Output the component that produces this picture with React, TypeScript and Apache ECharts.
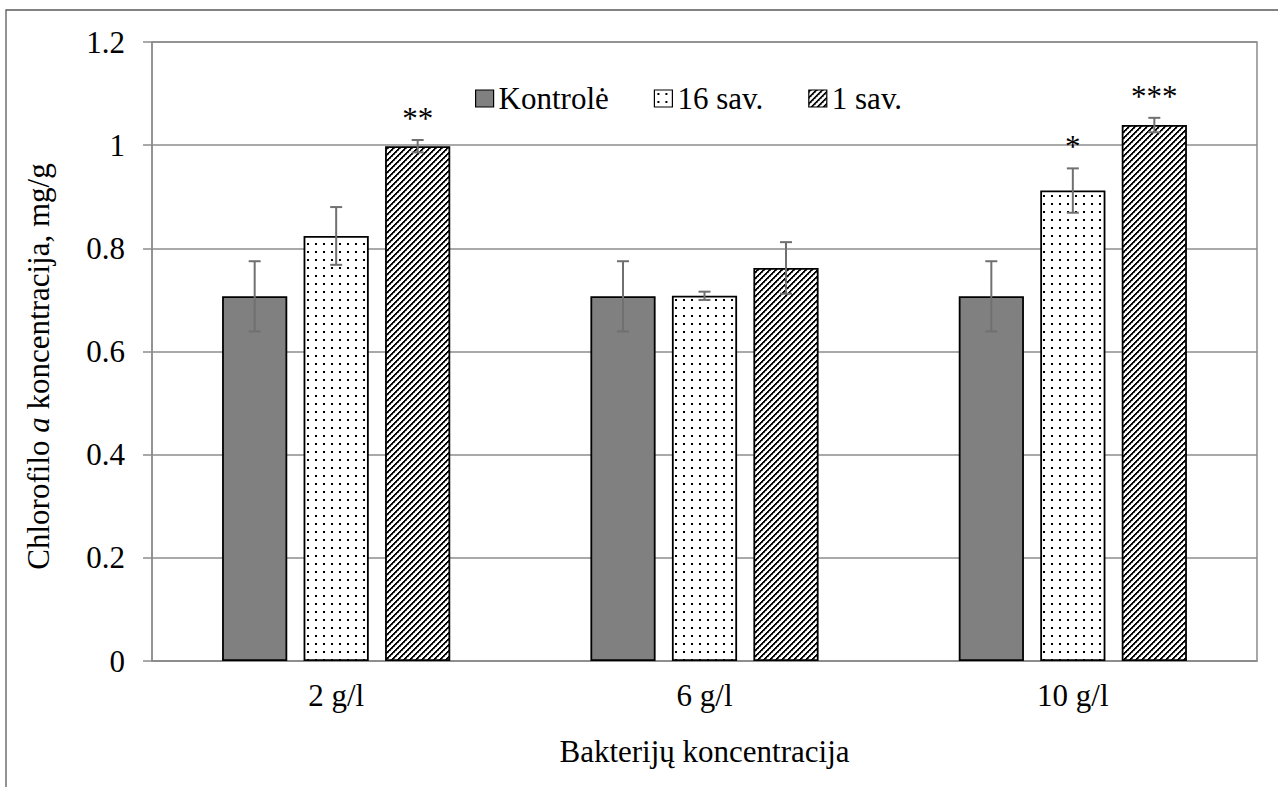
import React, { useEffect, useRef } from "react";
import * as echarts from "echarts";

const categories = ["2 g/l", "6 g/l", "10 g/l"];
const seriesNames = ["Kontrolė", "16 sav.", "1 sav."];
const kontrole = [0.707, 0.707, 0.707];
const kontroleErr = [0.068, 0.068, 0.068];
const sav16 = [0.824, 0.708, 0.912];
const sav16Err = [0.056, 0.008, 0.043];
const sav1 = [0.998, 0.762, 1.039];
const sav1Err = [0.012, 0.05, 0.014];
const kontroleStars = ["", "", ""];
const sav16Stars = ["", "", "*"];
const sav1Stars = ["**", "", "***"];
const yTicks = [0, 0.2, 0.4, 0.6, 0.8, 1, 1.2];

const FONT = "Liberation Serif";
const FS = 31;
const BAR_W = 0.177;
const GAP = 0.25;

function makeDots(): HTMLCanvasElement {
  const c = document.createElement("canvas");
  c.width = 8;
  c.height = 8;
  const ctx = c.getContext("2d")!;
  ctx.fillStyle = "#fff";
  ctx.fillRect(0, 0, 8, 8);
  ctx.fillStyle = "#000";
  ctx.fillRect(3, 3, 2, 2);
  return c;
}

function makeHatch(): HTMLCanvasElement {
  const n = 6;
  const c = document.createElement("canvas");
  c.width = n;
  c.height = n;
  const ctx = c.getContext("2d")!;
  ctx.fillStyle = "#fff";
  ctx.fillRect(0, 0, n, n);
  for (let x = 0; x < n; x++) {
    for (let y = 0; y < n; y++) {
      const m = (x + y) % n;
      if (m === 0 || m === 1) {
        ctx.fillStyle = "#000";
        ctx.fillRect(x, y, 1, 1);
      } else if (m === 2) {
        ctx.fillStyle = (x % 2 === 0) ? "#555" : "#bbb";
        ctx.fillRect(x, y, 1, 1);
      }
    }
  }
  return c;
}

export default function App() {
  const ref = useRef<HTMLDivElement>(null);
  useEffect(() => {
    if (!ref.current) return;
    const chart = echarts.init(ref.current, undefined, { renderer: "svg" });
    const dots = { image: makeDots(), repeat: "repeat" };
    const hatch = { image: makeHatch(), repeat: "repeat" };

    const values = [kontrole, sav16, sav1];
    const errs = [kontroleErr, sav16Err, sav1Err];
    const stars = [kontroleStars, sav16Stars, sav1Stars];
    const errData: number[][] = [];
    const errStars: string[] = [];
    for (let s = 0; s < 3; s++) {
      for (let i = 0; i < categories.length; i++) {
        errData.push([i, s, values[s][i], errs[s][i]]);
        errStars.push(stars[s][i]);
      }
    }

    const barStyle = (color: any) => ({
      color,
      borderColor: "#000",
      borderWidth: 1.8,
    });

    const option: any = {
      animation: false,
      textStyle: { fontFamily: FONT, color: "#000" },
      graphic: [
        {
          type: "rect",
          shape: { x: 6, y: 10, width: 1300, height: 820 },
          style: { fill: "none", stroke: "#595959", lineWidth: 1.3 },
          silent: true,
          z: -10,
        },
      ],
      legend: {
        left: 470,
        top: 78,
        itemWidth: 18,
        itemHeight: 17,
        itemGap: 45,
        icon: "rect",
        itemStyle: { borderColor: "#000", borderWidth: 1.2 },
        textStyle: { fontFamily: FONT, fontSize: FS, color: "#000" },
        data: seriesNames,
      },
      grid: {
        left: 152,
        right: 21,
        top: 42,
        bottom: 126,
        show: true,
        borderColor: "#8c8c8c",
        borderWidth: 1.5,
        backgroundColor: "transparent",
      },
      xAxis: {
        type: "category",
        data: categories,
        axisLine: { lineStyle: { color: "#8c8c8c", width: 1.5 } },
        axisTick: { show: false },
        axisLabel: { fontFamily: FONT, fontSize: FS, color: "#000", margin: 19 },
        name: "Bakterijų koncentracija",
        nameLocation: "middle",
        nameGap: 75,
        nameTextStyle: { fontFamily: FONT, fontSize: FS, color: "#000" },
      },
      yAxis: {
        type: "value",
        min: yTicks[0],
        max: yTicks[yTicks.length - 1],
        interval: 0.2,
        axisLine: { show: true, lineStyle: { color: "#8c8c8c", width: 1.5 } },
        axisTick: { show: true, length: 9, lineStyle: { color: "#8c8c8c", width: 1.5 } },
        splitLine: { lineStyle: { color: "#8c8c8c", width: 1.5 } },
        axisLabel: {
          fontFamily: FONT,
          fontSize: FS,
          color: "#000",
          margin: 27,
          formatter: (v: number) => String(+v.toFixed(1)),
        },
        name: "{n|Chlorofilo }{i|a}{n| koncentracija, mg/g}",
        nameLocation: "middle",
        nameGap: 98,
        nameTextStyle: {
          fontFamily: FONT,
          fontSize: FS,
          color: "#000",
          padding: [0, 30, 0, 0],
          rich: {
            n: { fontFamily: FONT, fontSize: FS, color: "#000" },
            i: { fontFamily: FONT, fontSize: FS, color: "#000", fontStyle: "italic" },
          },
        },
      },
      series: [
        {
          name: seriesNames[0],
          type: "bar",
          data: kontrole,
          barWidth: BAR_W * 100 + "%",
          barGap: GAP * 100 + "%",
          itemStyle: barStyle("#808080"),
        },
        {
          name: seriesNames[1],
          type: "bar",
          data: sav16,
          barWidth: BAR_W * 100 + "%",
          barGap: GAP * 100 + "%",
          itemStyle: barStyle(dots),
        },
        {
          name: seriesNames[2],
          type: "bar",
          data: sav1,
          barWidth: BAR_W * 100 + "%",
          barGap: GAP * 100 + "%",
          itemStyle: barStyle(hatch),
        },
        {
          name: "errors",
          type: "custom",
          z: 10,
          silent: true,
          data: errData,
          encode: { x: 0, y: 2 },
          renderItem: (params: any, api: any) => {
            const cat = api.value(0);
            const s = api.value(1);
            const v = api.value(2);
            const e = api.value(3);
            const band = api.size([1, 0])[0];
            const bw = band * BAR_W;
            const cx = api.coord([cat, 0])[0] + (s - 1) * bw * (1 + GAP);
            const top = api.coord([cat, v + e])[1];
            const bot = api.coord([cat, v - e])[1];
            const cap = 6;
            const st = { stroke: "#707070", lineWidth: 2 };
            const children: any[] = [
              { type: "line", shape: { x1: cx, y1: top, x2: cx, y2: bot }, style: st },
              { type: "line", shape: { x1: cx - cap, y1: top, x2: cx + cap, y2: top }, style: st },
              { type: "line", shape: { x1: cx - cap, y1: bot, x2: cx + cap, y2: bot }, style: st },
            ];
            const star = errStars[params.dataIndex];
            if (star) {
              children.push({
                type: "text",
                style: {
                  text: star,
                  x: cx,
                  y: top - 6,
                  align: "center",
                  verticalAlign: "bottom",
                  fontFamily: FONT,
                  fontSize: FS,
                  fill: "#000",
                },
              });
            }
            return { type: "group", children };
          },
        },
      ],
    };
    chart.setOption(option);
    return () => chart.dispose();
  }, []);
  return (
    <div
      ref={ref}
      style={{ position: "absolute", left: 0, top: 0, width: 1278, height: 787, background: "#fff" }}
    />
  );
}
